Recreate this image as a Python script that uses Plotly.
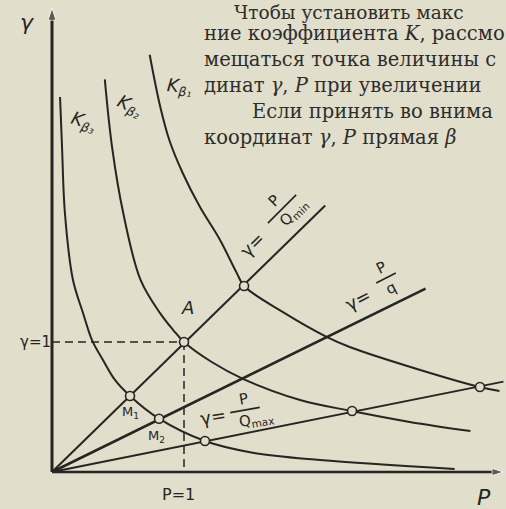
import math
import plotly.graph_objects as go

# ---- data (P, gamma) ----
kb1_P = [0.74, 0.82, 0.89, 0.99, 1.12, 1.27, 1.40, 1.455, 1.75, 2.08, 2.26, 2.79, 3.24, 3.39]
kb1_g = [3.21, 2.81, 2.55, 2.30, 2.04, 1.79, 1.53, 1.431, 1.23, 1.04, 0.96, 0.785, 0.654, 0.623]

kb2_P = [0.40, 0.455, 0.54, 0.67, 0.82, 0.92, 1.0, 1.21, 1.45, 1.88, 2.27, 2.71, 3.17]
kb2_g = [3.02, 2.50, 1.99, 1.48, 1.22, 1.09, 1.0, 0.846, 0.715, 0.554, 0.469, 0.385, 0.315]

kb3_P = [0.061, 0.076, 0.098, 0.159, 0.235, 0.303, 0.386, 0.477, 0.591, 0.811, 1.159, 1.52, 2.03, 3.05]
kb3_g = [2.885, 2.50, 1.99, 1.477, 1.223, 1.015, 0.862, 0.708, 0.585, 0.41, 0.238, 0.148, 0.092, 0.023]

qmin_P = [0, 2.07]
qmin_g = [0, 2.05]
q_P = [0, 2.83]
q_g = [0, 1.41]
qmax_P = [0, 3.42]
qmax_g = [0, 0.695]

node_P = [0.591, 0.811, 1.159, 1.0, 1.455, 2.273, 3.242]
node_g = [0.585, 0.41, 0.238, 1.0, 1.431, 0.469, 0.654]

ref_P = 1.0
ref_g = 1.0
axis_P_max = 3.42
axis_g_max = 3.57

page_lines = [
    "Чтобы установить макс",
    "ние коэффициента <i>K</i>, рассмо",
    "мещаться точка величины с",
    "динат <i>γ</i>, <i>P</i> при увеличении",
    "Если принять во внима",
    "координат <i>γ</i>, <i>P</i> прямая <i>β</i>",
]

# ---- styling ----
BG = "#e1decc"
INK = "#262522"
TEXT_INK = "#2e2d2a"
W, H = 506, 509
OX, OY = 52, 472      # pixel position of origin
SX, SY = 132, 130     # pixels per unit


def px(x, y):
    return (x - OX) / SX, (OY - y) / SY


fig = go.Figure()


def curve(xs, ys, width=2.0, dash=None, shape="spline"):
    fig.add_trace(go.Scatter(x=xs, y=ys, mode="lines",
                             line=dict(color=INK, width=width, dash=dash, shape=shape, smoothing=1.0),
                             hoverinfo="skip", showlegend=False))


curve(kb1_P, kb1_g, 2.0)
curve(kb2_P, kb2_g, 2.0)
curve(kb3_P, kb3_g, 2.0)
curve(qmin_P, qmin_g, 2.0, shape="linear")
curve(q_P, q_g, 2.6, shape="linear")
curve(qmax_P, qmax_g, 1.8, shape="linear")
curve([0, ref_P], [ref_g, ref_g], 1.5, dash="8px,5px", shape="linear")
curve([ref_P, ref_P], [ref_g, 0], 1.5, dash="8px,5px", shape="linear")

fig.add_trace(go.Scatter(x=node_P, y=node_g, mode="markers",
                         marker=dict(size=9, color=BG, line=dict(color=INK, width=1.6)),
                         hoverinfo="skip", showlegend=False))

# axes with arrow heads
fig.add_trace(go.Scatter(x=[0, 0], y=[0, axis_g_max], mode="lines+markers",
                         line=dict(color=INK, width=3),
                         marker=dict(symbol="arrow", angleref="previous", size=[0, 13], color=INK),
                         hoverinfo="skip", showlegend=False))
fig.add_trace(go.Scatter(x=[0, axis_P_max], y=[0, 0], mode="lines+markers",
                         line=dict(color=INK, width=2.6),
                         marker=dict(symbol="arrow", angleref="previous", size=[0, 12], color=INK),
                         hoverinfo="skip", showlegend=False))

HAND = "DejaVu Sans"


def label(text, x, y, size=16, angle=0, family=HAND, anchor="center", color=INK):
    X, Y = px(x, y)
    fig.add_annotation(x=X, y=Y, xref="x", yref="y", text=text, showarrow=False,
                       textangle=angle, xanchor=anchor, yanchor="middle",
                       font=dict(family=family, size=size, color=color))


label("<i>γ</i>", 27, 22, 22)
label("γ=1", 35, 342, 15)
label("P=1", 178, 494, 16)
label("<i>P</i>", 484, 497, 22)
label("<i>A</i>", 187, 307, 18)
label("M<sub>1</sub>", 130, 412, 13)
label("M<sub>2</sub>", 156, 436, 13)
label("<i>K<sub>β₃</sub></i>", 83, 122, 18, angle=18)
label("<i>K<sub>β₂</sub></i>", 129, 106, 18, angle=25)
label("<i>K<sub>β₁</sub></i>", 179, 87, 18, angle=5)


def fraction(cx, cy, theta, num, den, barlen, den_shift=0, size=15):
    t = math.radians(theta)
    ux, uy = math.cos(t), -math.sin(t)
    nx, ny = -math.sin(t), -math.cos(t)
    d = 11
    label(num, cx + nx * d, cy + ny * d, size, angle=-theta)
    label(den, cx - nx * d + ux * den_shift, cy - ny * d + uy * den_shift, size, angle=-theta)
    x0, y0 = px(cx - ux * barlen / 2, cy - uy * barlen / 2)
    x1, y1 = px(cx + ux * barlen / 2, cy + uy * barlen / 2)
    fig.add_shape(type="line", x0=x0, y0=y0, x1=x1, y1=y1, xref="x", yref="y",
                  line=dict(color=INK, width=1.6))


label("γ=", 252, 244, 18, angle=-45)
fraction(282, 209, 45, "P", "Q<sub>min</sub>", 40, den_shift=6)
label("γ=", 358, 299, 18, angle=-27)
fraction(386, 278, 27, "P", "q", 22)
label("γ=", 213, 416, 18, angle=-10)
fraction(245, 410, 10, "P", "Q<sub>max</sub>", 30, den_shift=10)

# book text
line_y = [12, 33, 59, 85, 111, 137]
line_x = [232, 202, 202, 202, 250, 202]
line_size = [18.5, 19.5, 19.5, 19.5, 19.5, 19.5]
for t, yy, xx, sz in zip(page_lines, line_y, line_x, line_size):
    label(t, xx, yy, sz, family="DejaVu Serif", anchor="left", color=TEXT_INK)

x_lo, _ = px(0, 0)
x_hi, _ = px(W, 0)
_, y_lo = px(0, H)
_, y_hi = px(0, 0)

fig.update_layout(
    width=W, height=H,
    margin=dict(l=0, r=0, t=0, b=0),
    paper_bgcolor=BG, plot_bgcolor=BG,
    xaxis=dict(range=[x_lo, x_hi], visible=False, fixedrange=True),
    yaxis=dict(range=[y_lo, y_hi], visible=False, fixedrange=True),
    showlegend=False,
)

fig.write_html("out.html", config={"displayModeBar": False},
               post_script="document.body.style.margin='0';document.body.style.overflow='hidden';")
